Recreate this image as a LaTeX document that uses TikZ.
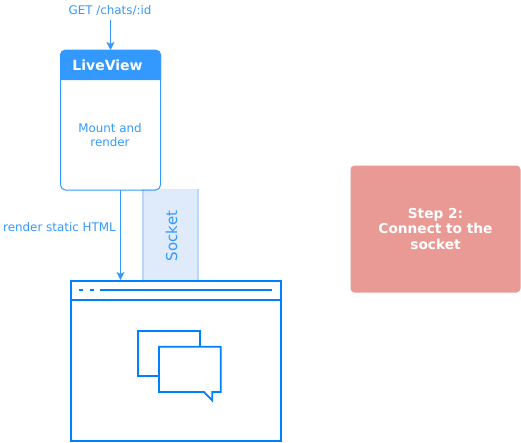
\documentclass[tikz,border=0pt]{standalone}
\usepackage{fontspec}
\setmainfont{DejaVu Sans}
\definecolor{lvblue}{HTML}{3399FF}
\definecolor{brblue}{HTML}{007FFF}
\definecolor{sockfill}{HTML}{DFEAFB}
\definecolor{sockline}{HTML}{B9D7F8}
\definecolor{stepred}{HTML}{E99A94}
\usetikzlibrary{arrows.meta}
\tikzset{
  lbl/.style={text=lvblue,font=\fontsize{11.9}{14.5}\selectfont,align=center,inner sep=0pt},
  conn/.style={draw=lvblue,line width=1pt,-{Stealth[length=8pt,width=8pt,inset=2pt]}},
  brow/.style={draw=brblue,line width=2pt},
  bub/.style={draw=brblue,line width=1.8pt,fill=white}
}
\begin{document}
\begin{tikzpicture}[x=1pt,y=-1pt]
\useasboundingbox (0,0) rectangle (521,442);
% socket
\path[fill=sockfill] (143,189) rectangle (198,280);
\draw[sockline,line width=1.2pt] (143,189) -- (143,280) (198,189) -- (198,280);
\node[lbl,rotate=90,font=\fontsize{15}{15}\selectfont] (socket) at (171.5,236) {Socket};
% LiveView
\node[draw=lvblue,line width=1pt,rounded corners=5pt,minimum width=100pt,minimum height=140pt,inner sep=0pt] (lv) at (110.5,120) {};
\fill[lvblue] (60,80) -- (60,55) arc[start angle=180,end angle=90,radius=5pt] -- (156,50) arc[start angle=90,end angle=0,radius=5pt] -- (161,80) -- cycle;
\node[text=white,font=\bfseries\fontsize{14}{15}\selectfont,inner sep=0pt] (lvt) at (107.5,65) {LiveView};
\node[lbl] (mr) at (110,135) {Mount and\\render};
\node[lbl] (get) at (110,10.5) {GET /chats/:id};
\node[lbl,anchor=east] (rsh) at (116,227.5) {render static HTML};
% browser
\node[brow,minimum width=210pt,minimum height=160pt,inner sep=0pt] (br) at (175.5,360.5) {};
\coordinate (brtop) at (120.5,280);
\coordinate (lvbot) at (120.5,190);
\coordinate (gete) at (110.5,20);
\coordinate (lvtop) at (110.5,50);
\draw[conn] (gete) -- (lvtop);
\draw[conn] (lvbot) -- (brtop);
\draw[brow] (70.5,300) -- (280.5,300);
\draw[brblue,line width=2pt] (79,290) -- (83,290) (90,290) -- (94,290) (100,290) -- (272,290);
% bubbles
\draw[bub] (138.3,330.7) rectangle (200,375.7);
\draw[bub,miter limit=3] (159,346.8) -- (220.7,346.8) -- (220.7,392) -- (212.3,392) -- (212.3,400.5) -- (204,392) -- (159,392) -- cycle;
% step
\node[fill=stepred,rounded corners=4pt,minimum width=170pt,minimum height=127pt,inner sep=0pt,text=white,align=center,font=\bfseries\fontsize{13.7}{15.5}\selectfont] (step2) at (435.5,229) {Step 2:\\Connect to the\\socket};
\end{tikzpicture}
\end{document}
